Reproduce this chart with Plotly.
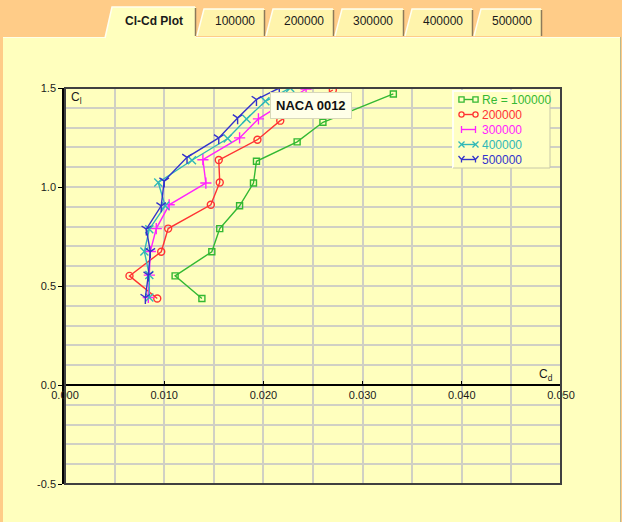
import plotly.graph_objects as go

# ---------------- data ----------------
series_names = ["Re = 100000", "200000", "300000", "400000", "500000"]

cd_100k = [0.0138, 0.0111, 0.0148, 0.0156, 0.0176, 0.0190, 0.0193, 0.0234, 0.0260, 0.0331]
cl_100k = [0.437, 0.551, 0.673, 0.790, 0.905, 1.020, 1.130, 1.228, 1.327, 1.470]

cd_200k = [0.0093, 0.0065, 0.0097, 0.0104, 0.0147, 0.0156, 0.0155, 0.0194, 0.0217, 0.0270]
cl_200k = [0.437, 0.551, 0.673, 0.790, 0.910, 1.023, 1.136, 1.239, 1.335, 1.490]

cd_300k = [0.0084, 0.0085, 0.0086, 0.0092, 0.0105, 0.0142, 0.0139, 0.0176, 0.0195, 0.0243]
cl_300k = [0.442, 0.555, 0.674, 0.790, 0.910, 1.020, 1.138, 1.248, 1.344, 1.495]

cd_400k = [0.0085, 0.0085, 0.0080, 0.0085, 0.0101, 0.0094, 0.0128, 0.0164, 0.0183, 0.0202, 0.0227]
cl_400k = [0.442, 0.555, 0.674, 0.787, 0.905, 1.023, 1.135, 1.245, 1.344, 1.433, 1.500]

cd_500k = [0.0081, 0.0084, 0.0086, 0.0082, 0.0097, 0.0100, 0.0123, 0.0155, 0.0174, 0.0193, 0.0216]
cl_500k = [0.442, 0.555, 0.674, 0.787, 0.905, 1.030, 1.150, 1.248, 1.349, 1.442, 1.500]

x_tick_vals = [0.0, 0.01, 0.02, 0.03, 0.04, 0.05]
x_tick_text = ["0.000", "0.010", "0.020", "0.030", "0.040", "0.050"]
y_tick_vals = [-0.5, 0.0, 0.5, 1.0, 1.5]
y_tick_text = ["-0.5", "0.0", "0.5", "1.0", "1.5"]

tab_labels = ["Cl-Cd Plot", "100000", "200000", "300000", "400000", "500000"]
annotation_text = "NACA 0012"

# ---------------- styles ----------------
colors = ["#33B833", "#FF3333", "#FF22FF", "#30B8B8", "#3333CC"]
symbols = ["square-open", "circle-open", "cross-thin-open", "x-thin-open", "y-down-open"]
msizes = [6, 7, 8, 8, 8]

ORANGE = "#FFCC88"
PANEL = "#FFFFBE"
GRID = "#D0D0C4"

W, H = 622, 522
L, R, T, B = 65, 61, 88, 38
PW, PH = W - L - R, H - T - B


def px(x):
    return (x - L) / PW


def py(y):
    return 1 - (y - T) / PH


fig = go.Figure()
series = [(cd_100k, cl_100k), (cd_200k, cl_200k), (cd_300k, cl_300k),
          (cd_400k, cl_400k), (cd_500k, cl_500k)]
for (xs, ys), name, c, s, ms in zip(series, series_names, colors, symbols, msizes):
    fig.add_trace(go.Scatter(
        x=xs, y=ys, mode="lines+markers", name=name, showlegend=False,
        line=dict(color=c, width=1.4),
        marker=dict(symbol=s, size=ms, color=c, line=dict(color=c, width=1.4)),
        cliponaxis=True,
    ))

shapes = []
annotations = []
# yellow panel
shapes.append(dict(type="rect", xref="paper", yref="paper", layer="below",
                   x0=px(3), x1=px(620), y0=py(37), y1=py(H + 5),
                   fillcolor=PANEL, line=dict(width=0)))
shapes.append(dict(type="line", xref="paper", yref="paper", layer="below",
                   x0=px(620.5), x1=px(620.5), y0=py(37), y1=py(H + 5),
                   line=dict(color="#B8B890", width=1)))
shapes.append(dict(type="line", xref="paper", yref="paper", layer="below",
                   x0=px(3), x1=px(620), y0=py(37.5), y1=py(37.5),
                   line=dict(color="#FFFFE8", width=1)))

# tabs
tab_x = [(105, 196), (197, 265), (266, 334), (335, 404), (405, 473), (474, 542)]
for i, ((x0, x1), lab) in enumerate(zip(tab_x, tab_labels)):
    active = i == 0
    top = 7 if active else 9
    bot = 38 if active else 36
    fill = PANEL if active else "#FFF4AC"
    path = (f"M{px(x0)},{py(bot)} L{px(x0 + 7)},{py(top)} "
            f"L{px(x1)},{py(top)} L{px(x1)},{py(bot)} Z")
    shapes.append(dict(type="path", xref="paper", yref="paper", layer="below",
                       path=path, fillcolor=fill, line=dict(width=0)))
    shapes.append(dict(type="path", xref="paper", yref="paper", layer="below",
                       path=f"M{px(x0)},{py(bot)} L{px(x0 + 7)},{py(top)} L{px(x1 - 1)},{py(top)}",
                       line=dict(color="#FFFFF0", width=1.5)))
    shapes.append(dict(type="line", xref="paper", yref="paper", layer="below",
                       x0=px(x1 - 0.5), x1=px(x1 - 0.5), y0=py(top + 1), y1=py(bot - (2 if active else 0)),
                       line=dict(color="#8C7A5A", width=1.5)))
    annotations.append(dict(xref="paper", yref="paper", x=px((x0 + 7 + x1) / 2), y=py(21),
                            text=f"<b>{lab}</b>" if active else lab, showarrow=False,
                            font=dict(family="Arial", size=12, color="#1A1A1A"),
                            xanchor="center", yanchor="middle"))

# plot frame
shapes.append(dict(type="rect", xref="paper", yref="paper", layer="above",
                   x0=0, x1=1, y0=0, y1=1, line=dict(color="#404040", width=2)))

# custom legend box (compact, markers at both ends of the sample line)
LX0, LX1, LY0, LY1 = 453, 550, 91, 168
shapes.append(dict(type="rect", xref="paper", yref="paper", layer="above",
                   x0=px(LX0), x1=px(LX1), y0=py(LY1), y1=py(LY0),
                   fillcolor="#FFFFC4", line=dict(width=0)))
shapes.append(dict(type="path", xref="paper", yref="paper", layer="above",
                   path=f"M{px(LX0)},{py(LY1)} L{px(LX0)},{py(LY0)} L{px(LX1)},{py(LY0)}",
                   line=dict(color="#FFFFF4", width=2)))
shapes.append(dict(type="path", xref="paper", yref="paper", layer="above",
                   path=f"M{px(LX1)},{py(LY0)} L{px(LX1)},{py(LY1)} L{px(LX0)},{py(LY1)}",
                   line=dict(color="#C8C8A8", width=1)))
row_y = [99.5, 114.5, 129.5, 144.5, 159.5]
ma, mb = 461.5, 475.5
for ry, name, c, s in zip(row_y, series_names, colors, symbols):
    shapes.append(dict(type="line", xref="paper", yref="paper", layer="above",
                       x0=px(ma), x1=px(mb), y0=py(ry), y1=py(ry),
                       line=dict(color=c, width=1.4)))
    for mx in (ma, mb):
        r = 2.6
        if s.startswith("square"):
            shapes.append(dict(type="rect", xref="paper", yref="paper", layer="above",
                               x0=px(mx - r), x1=px(mx + r), y0=py(ry + r), y1=py(ry - r),
                               fillcolor="#FFFFC4", line=dict(color=c, width=1.3)))
        elif s.startswith("circle"):
            shapes.append(dict(type="circle", xref="paper", yref="paper", layer="above",
                               x0=px(mx - r), x1=px(mx + r), y0=py(ry + r), y1=py(ry - r),
                               fillcolor="#FFFFC4", line=dict(color=c, width=1.3)))
        elif s.startswith("cross"):
            shapes.append(dict(type="path", xref="paper", yref="paper", layer="above",
                               path=f"M{px(mx)},{py(ry - 3.5)} L{px(mx)},{py(ry + 3.5)}",
                               line=dict(color=c, width=1.3)))
        elif s.startswith("x"):
            shapes.append(dict(type="path", xref="paper", yref="paper", layer="above",
                               path=(f"M{px(mx - 3)},{py(ry - 3)} L{px(mx + 3)},{py(ry + 3)} "
                                     f"M{px(mx - 3)},{py(ry + 3)} L{px(mx + 3)},{py(ry - 3)}"),
                               line=dict(color=c, width=1.3)))
        else:
            shapes.append(dict(type="path", xref="paper", yref="paper", layer="above",
                               path=(f"M{px(mx - 3)},{py(ry - 3.5)} L{px(mx)},{py(ry)} "
                                     f"L{px(mx + 3)},{py(ry - 3.5)} M{px(mx)},{py(ry)} L{px(mx)},{py(ry + 3)}"),
                               line=dict(color=c, width=1.3)))
    annotations.append(dict(xref="paper", yref="paper", x=px(480), y=py(ry), text=name,
                            showarrow=False, xanchor="left", yanchor="middle",
                            font=dict(family="Arial", size=12, color=c)))

# axis titles
annotations.append(dict(xref="x", yref="y", x=0.0004, y=1.5, text="C<sub>l</sub>",
                        showarrow=False, xanchor="left", yanchor="top",
                        font=dict(family="Arial", size=12, color="#1A1A1A")))
annotations.append(dict(xref="x", yref="y", x=0.0476, y=0.0, text="C<sub>d</sub>",
                        showarrow=False, xanchor="left", yanchor="bottom",
                        font=dict(family="Arial", size=12, color="#1A1A1A")))
# NACA label
annotations.append(dict(xref="x", yref="y", x=0.0248, y=1.41, text=f"<b>{annotation_text}</b>",
                        showarrow=False, xanchor="center", yanchor="middle",
                        font=dict(family="Arial", size=13, color="#111111"),
                        bgcolor="#FFFFE8", bordercolor="#D8D8B8", borderwidth=1, borderpad=5))

fig.update_layout(
    width=W, height=H,
    margin=dict(l=L, r=R, t=T, b=B, pad=0),
    paper_bgcolor=ORANGE,
    plot_bgcolor=PANEL,
    font=dict(family="Arial", size=11, color="#1A1A1A"),
    shapes=shapes,
    annotations=annotations,
    showlegend=False,
    xaxis=dict(range=[0, 0.05], tickvals=x_tick_vals, ticktext=x_tick_text,
               showgrid=True, gridcolor=GRID, gridwidth=1.5,
               minor=dict(dtick=0.005, showgrid=True, gridcolor=GRID, gridwidth=1.5),
               anchor="free", position=0.25, showline=True, linecolor="#000000", linewidth=2,
               ticks="inside", ticklen=3, tickcolor="#000000", zeroline=False,
               tickfont=dict(family="Arial", size=11, color="#1A1A1A")),
    yaxis=dict(range=[-0.5, 1.5], tickvals=y_tick_vals, ticktext=y_tick_text,
               showgrid=True, gridcolor=GRID, gridwidth=1.5,
               minor=dict(dtick=0.1, showgrid=True, gridcolor=GRID, gridwidth=1.5),
               showline=True, linecolor="#000000", linewidth=2.5,
               ticks="outside", ticklen=4, tickcolor="#000000", zeroline=False,
               tickfont=dict(family="Arial", size=11, color="#1A1A1A")),
)

fig.write_html("out.html", config={"displayModeBar": False},
               post_script="document.body.style.margin='0px';document.body.style.overflow='hidden';")
